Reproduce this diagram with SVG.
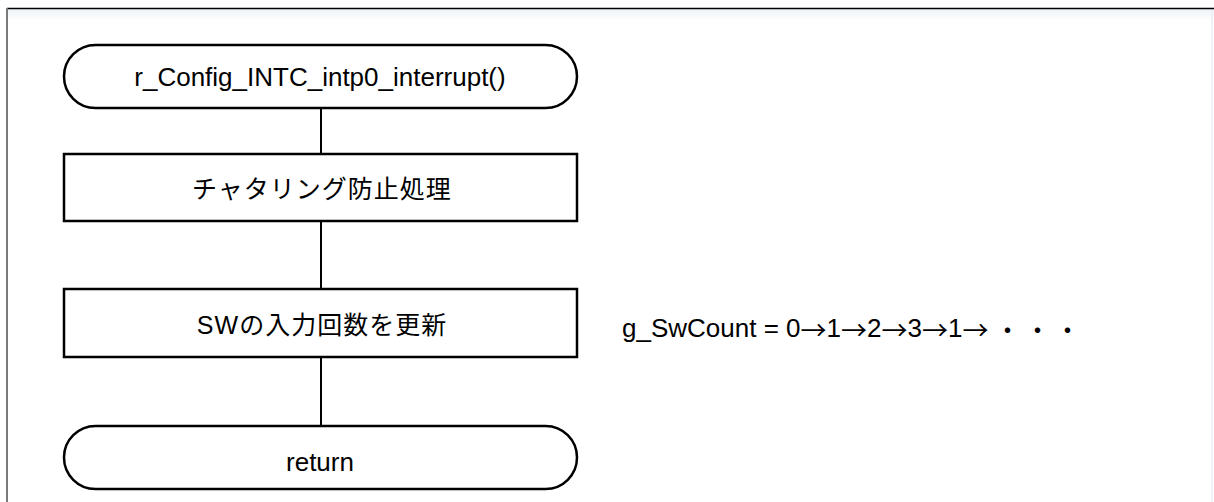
<svg xmlns="http://www.w3.org/2000/svg" width="1214" height="502" viewBox="0 0 1214 502">
<style>
.shape{fill:#ffffff;stroke:#000000;stroke-width:2.5}
.conn{stroke:#000000;stroke-width:2;fill:none}
.t{font-family:"Liberation Sans","Noto Sans CJK JP",sans-serif;font-size:26px;fill:#000000;text-anchor:middle;dominant-baseline:central}
.j{font-family:"Liberation Sans","Noto Sans CJK JP",sans-serif;font-size:25px;letter-spacing:1px;fill:#000000;text-anchor:middle;dominant-baseline:central}
.n{font-family:"Liberation Sans","Noto Sans CJK JP",sans-serif;font-size:26px;fill:#000000;dominant-baseline:central}
.a{font-family:"Noto Sans CJK JP",sans-serif}
</style>
<defs>
<linearGradient id="shadeTop" x1="0" y1="0" x2="0" y2="1">
<stop offset="0" stop-color="#eef3f9"/>
<stop offset="1" stop-color="#ffffff"/>
</linearGradient>
</defs>
<rect x="0" y="0" width="1214" height="502" fill="#ffffff"/>
<g id="frame">
<rect x="8" y="9" width="1206" height="12" fill="url(#shadeTop)"/>
<line x1="1212" y1="9" x2="1212" y2="502" stroke="#eef2f8" stroke-width="2"/>
<line x1="7" y1="8.5" x2="1214" y2="8.5" stroke="#000000" stroke-width="1.5"/>
<line x1="7" y1="8" x2="7" y2="502" stroke="#7a7a7a" stroke-width="2"/>
</g>
<g id="connectors">
<line class="conn" x1="321" y1="108" x2="321" y2="154"/>
<line class="conn" x1="321" y1="221" x2="321" y2="289"/>
<line class="conn" x1="321" y1="357" x2="321" y2="426"/>
</g>
<g id="start">
<rect class="shape" x="64" y="45" width="513" height="63" rx="31.5" ry="31.5"/>
<text class="t" x="320" y="77">r_Config_INTC_intp0_interrupt()</text>
</g>
<g id="debounce">
<rect class="shape" x="64" y="154" width="513" height="67"/>
<text class="j" x="322" y="189">チャタリング防止処理</text>
</g>
<g id="update">
<rect class="shape" x="64" y="289" width="513" height="68"/>
<text class="j" x="322" y="325">SWの入力回数を更新</text>
</g>
<g id="end">
<rect class="shape" x="64" y="426" width="513" height="63" rx="31.5" ry="31.5"/>
<text class="t" x="320" y="462">return</text>
</g>
<g id="note">
<text class="n" x="622" y="328">g_SwCount = 0<tspan class="a">→</tspan>1<tspan class="a">→</tspan>2<tspan class="a">→</tspan>3<tspan class="a">→</tspan>1<tspan class="a">→</tspan><tspan class="a" dx="6" letter-spacing="4">・・・</tspan></text>
</g>
</svg>
